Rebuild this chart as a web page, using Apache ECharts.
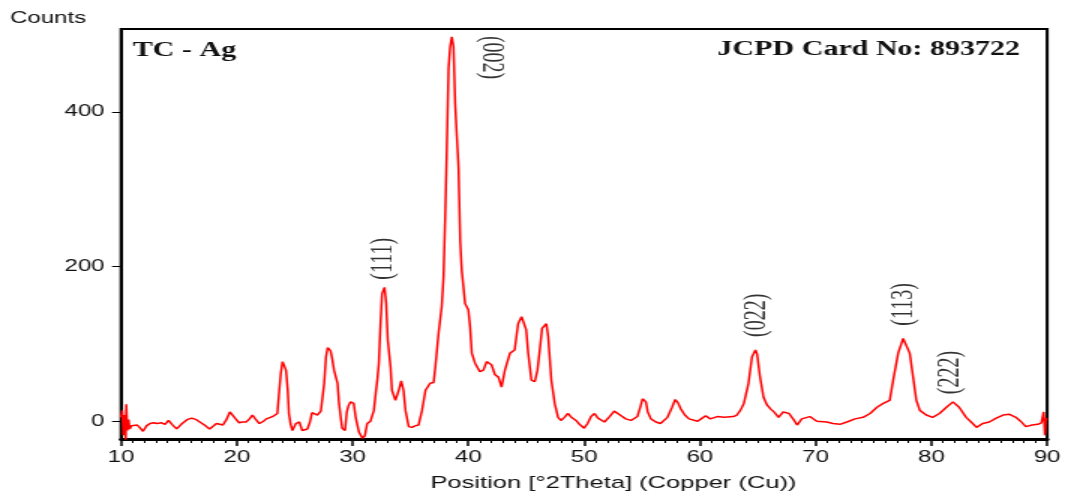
<!DOCTYPE html>
<html>
<head>
<meta charset="utf-8">
<script src="https://cdn.jsdelivr.net/npm/echarts@6/dist/echarts.min.js"></script>
<style>
  html, body { margin: 0; padding: 0; background: #fff; overflow: hidden; }
  #chart { width: 710px; height: 494px; transform: scaleX(1.5); transform-origin: 0 0; }
</style>
</head>
<body>
<div id="chart"></div>
<script>
const twoTheta = [
  10.0, 10.1, 10.2, 10.3, 10.4, 10.45, 10.55, 10.65, 10.75, 10.9, 11.1, 11.4, 11.6, 11.9, 12.2, 12.5,
  12.8, 13.1, 13.5, 13.8, 14.1, 14.4, 14.8, 15.2, 15.7, 16.1, 16.5, 16.8, 17.2, 17.65, 18.0, 18.25,
  18.5, 18.8, 19.1, 19.4, 19.65, 19.9, 20.2, 20.5, 20.8, 21.1, 21.35, 21.6, 21.95, 22.3, 22.55, 22.9,
  23.2, 23.5, 23.67, 23.8, 23.95, 24.1, 24.25, 24.4, 24.5, 24.65, 24.8, 25.1, 25.4, 25.65, 25.9, 26.1,
  26.3, 26.5, 26.75, 26.95, 27.26, 27.55, 27.7, 27.85, 27.97, 28.1, 28.25, 28.4, 28.7, 28.83, 29.0, 29.1,
  29.35, 29.5, 29.65, 29.83, 30.1, 30.27, 30.55, 30.85, 31.06, 31.26, 31.55, 31.84, 32.0, 32.15, 32.27, 32.4,
  32.55, 32.76, 32.9, 33.04, 33.28, 33.4, 33.7, 33.99, 34.2, 34.4, 34.57, 34.85, 35.13, 35.4, 35.7, 36.0,
  36.3, 36.7, 37.0, 37.15, 37.43, 37.7, 37.86, 38.0, 38.14, 38.29, 38.43, 38.57, 38.72, 38.86, 39.0, 39.15,
  39.3, 39.43, 39.72, 40.0, 40.15, 40.3, 40.58, 41.0, 41.3, 41.58, 42.0, 42.3, 42.6, 42.87, 43.16, 43.6,
  44.0, 44.3, 44.6, 44.8, 45.0, 45.17, 45.45, 45.74, 45.97, 46.17, 46.37, 46.74, 46.9, 47.17, 47.46, 47.75,
  48.0, 48.3, 48.6, 48.9, 49.3, 49.6, 50.0, 50.3, 50.6, 50.9, 51.2, 51.76, 52.2, 52.6, 53.2, 53.6,
  54.05, 54.6, 54.85, 55.05, 55.34, 55.5, 55.77, 56.2, 56.6, 57.2, 57.6, 57.87, 58.1, 58.35, 58.7, 59.07,
  59.8, 60.2, 60.5, 60.9, 61.5, 62.1, 62.9, 63.2, 63.5, 63.8, 64.2, 64.5, 64.8, 64.94, 65.2, 65.5,
  65.8, 66.1, 66.4, 66.8, 67.2, 67.7, 68.1, 68.4, 68.8, 69.5, 70.1, 70.96, 71.5, 72.1, 72.7, 73.4,
  74.1, 74.7, 75.3, 75.84, 76.4, 76.7, 77.13, 77.56, 77.79, 78.13, 78.42, 78.7, 79.0, 79.56, 80.1, 80.7,
  81.3, 81.86, 82.4, 83.0, 83.5, 83.9, 84.43, 85.0, 85.6, 86.2, 86.7, 87.3, 87.7, 88.16, 88.7, 89.2,
  89.5, 89.7, 89.8, 89.9, 90.0
];
const counts = [
  5, 14, -18, 8, -24, 22, -12, 2, -10, -6, -7, -5, -8, -13, -6, -3,
  -2, -3, -2, -4, 1, -4, -10, -4, 2, 4, 2, -1, -5, -10, -6, -3,
  -1, -5, 2, 12, 10, 3, -2, -1, -1, 3, 8, 3, -3, 0, 3, 5,
  7, 10, 40, 62, 77, 76, 66, 40, 10, -4, -12, -3, -1, -12, -11, -10,
  -2, 11, 9, 8, 13, 49, 83, 95, 94, 91, 80, 66, 49, 23, 2, -9,
  -12, 12, 20, 25, 23, 5, -14, -22, -19, -3, 0, 14, 36, 55, 75, 122,
  165, 173, 153, 105, 70, 40, 27, 40, 52, 40, 14, -7, -8, -6, -5, 14,
  40, 49, 50, 70, 114, 148, 187, 264, 351, 456, 484, 497, 484, 411, 370, 329,
  232, 195, 152, 144, 122, 88, 75, 64, 66, 77, 73, 60, 57, 44, 66, 88,
  92, 126, 135, 133, 118, 88, 53, 51, 66, 92, 120, 126, 109, 53, 23, 5,
  1, 5, 10, 5, 1, -4, -9, -3, 6, 10, 4, -1, 6, 13, 7, 3,
  1, 6, 18, 29, 25, 12, 3, -1, -3, 5, 18, 28, 24, 16, 8, 3,
  0, 4, 7, 3, 6, 5, 6, 8, 14, 23, 49, 83, 92, 87, 57, 31,
  21, 16, 12, 5, 12, 10, 2, -5, 3, 6, 0, -1, -3, -4, -1, 3,
  5, 10, 18, 23, 27, 53, 88, 107, 109, 88, 57, 27, 14, 8, 5, 10,
  18, 25, 18, 5, -2, -8, -3, -1, 4, 8, 9, 5, 0, -7, -5, -4,
  -2, 12, -18, 4, 2
];

// Peak (hkl) annotations: label, 2θ position, counts level of label centre, rotation
const peakLabels = ['(111)', '(002)', '(022)', '(113)', '(222)'];
const peakTheta = [32.7, 41.9, 64.9, 77.6, 81.6];
const peakLabelCounts = [210, 470, 137, 151, 63];
const peakRotate = [90, -90, 90, 90, 90];

// Axis tick labels
const yTickValues = [0, 200, 400];

const chart = echarts.init(document.getElementById('chart'), null, { renderer: 'canvas' });

const sans = 'Liberation Sans, Arial, sans-serif';
const serif = 'Liberation Serif, Times New Roman, serif';

chart.setOption({
  animation: false,
  backgroundColor: '#fff',
  grid: {
    left: 80.7, right: 9, top: 29, bottom: 55,
    show: true, borderColor: '#000', borderWidth: 2, backgroundColor: 'transparent'
  },
  graphic: [
    { type: 'text', left: 6.7, top: 11, style: { text: 'Counts', font: '16px ' + sans, fill: '#111' } },
    { type: 'text', left: 408 - 121, top: 475, style: { text: 'Position [°2Theta] (Copper (Cu))', font: '17px ' + sans, fill: '#111' } },
    { type: 'text', left: 88.5, top: 41, style: { text: 'TC - Ag', font: 'bold 20px ' + serif, fill: '#111' } },
    { type: 'text', right: 30, top: 40, style: { text: 'JCPD Card No: 893722', font: 'bold 20px ' + serif, fill: '#111' } }
  ],
  xAxis: {
    type: 'value', min: 10, max: 90, interval: 10,
    splitLine: { show: false },
    axisLine: { show: true, onZero: false, lineStyle: { color: '#000', width: 3 } },
    axisTick: { show: true, inside: false, length: 7, lineStyle: { color: '#000', width: 1.5 } },
    minorTick: { show: true, splitNumber: 10, length: 4, lineStyle: { color: '#000', width: 1 } },
    axisLabel: { fontSize: 16, fontFamily: sans, color: '#111', margin: 11 }
  },
  yAxis: {
    type: 'value', min: -23, max: 507,
    splitLine: { show: false },
    axisLine: { show: true, onZero: false, lineStyle: { color: '#000', width: 2 } },
    axisTick: { show: true, inside: false, length: 6, customValues: yTickValues, lineStyle: { color: '#000', width: 1 } },
    axisLabel: { fontSize: 16, fontFamily: sans, color: '#111', margin: 11, customValues: yTickValues }
  },
  series: [
    {
      type: 'line',
      data: twoTheta.map((t, i) => [t, counts[i]]),
      showSymbol: false,
      symbol: 'none',
      lineStyle: { color: '#ff0000', width: 1.5 },
      z: 3
    },
    {
      type: 'scatter',
      symbolSize: 0,
      silent: true,
      data: peakTheta.map((t, i) => ({
        value: [t, peakLabelCounts[i]],
        label: { rotate: peakRotate[i], formatter: peakLabels[i] }
      })),
      label: {
        show: true, position: 'inside', align: 'center', verticalAlign: 'middle',
        fontFamily: serif, fontSize: 20, color: '#000'
      },
      z: 4
    }
  ]
});
</script>
</body>
</html>
